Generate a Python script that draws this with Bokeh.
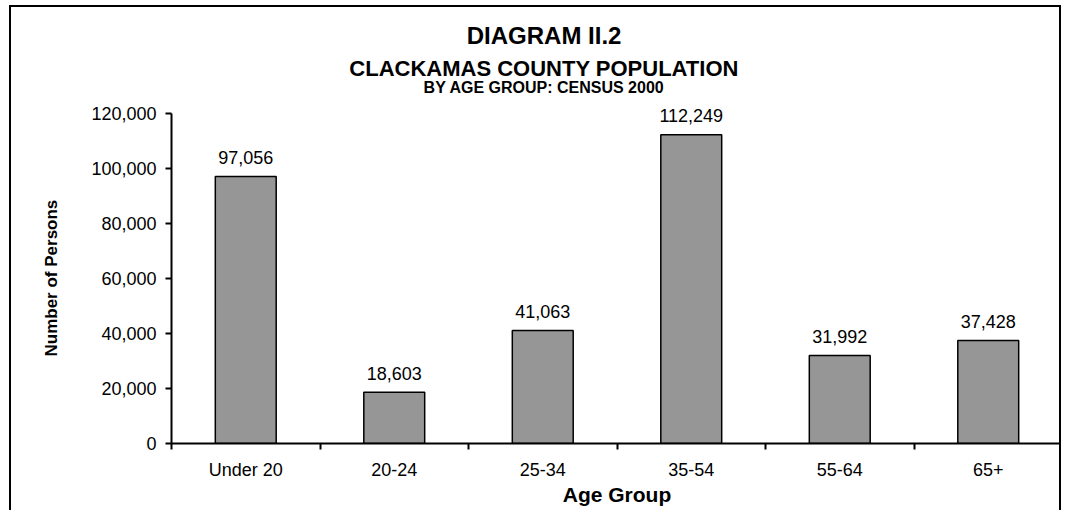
from bokeh.plotting import figure
from bokeh.models import Range1d, FixedTicker, NumeralTickFormatter, Title, Label, ColumnDataSource
from bokeh.core.properties import value
from bokeh.embed import file_html
from bokeh.resources import INLINE

categories = ["Under 20", "20-24", "25-34", "35-54", "55-64", "65+"]
persons = [97056, 18603, 41063, 112249, 31992, 37428]
y_ticks = [0, 20000, 40000, 60000, 80000, 100000, 120000]

title_lines = ["DIAGRAM II.2", "CLACKAMAS COUNTY POPULATION", "BY AGE GROUP: CENSUS 2000"]
x_title = "Age Group"
y_title = "Number of Persons"

FONT = "Liberation Sans"
n = len(categories)
xs = [i + 0.5 for i in range(n)]
labels = [f"{v:,}" for v in persons]

# layout (pixels)
W, H = 1052, 505
MB_LEFT, MB_RIGHT, MB_TOP, MB_BOTTOM = 159, 1, 0, 69
AXIS_PX = 330                      # pixel height of the 0..120000 axis
frame_h = H - MB_TOP - MB_BOTTOM
units_per_px = y_ticks[-1] / AXIS_PX
y_top = frame_h * units_per_px     # frame extends above the axis to hold the titles
frame_w = W - MB_LEFT - MB_RIGHT
cat_px = frame_w / n

src = ColumnDataSource(dict(x=xs, top=persons, label=labels))

p = figure(width=W, height=H, output_backend="svg", toolbar_location=None,
           x_range=Range1d(0, n), y_range=Range1d(0, y_top),
           min_border_left=MB_LEFT, min_border_right=MB_RIGHT,
           min_border_top=MB_TOP, min_border_bottom=MB_BOTTOM)
p.styles = {"border-left": "2px solid black", "border-top": "2px solid black",
            "border-right": "2px solid black", "margin-left": "9px", "margin-top": "5px"}
p.outline_line_color = None
p.xgrid.visible = False
p.ygrid.visible = False
p.background_fill_color = "white"
p.border_fill_color = "white"

p.vbar(x="x", top="top", width=0.41, bottom=0, source=src,
       fill_color="#969696", line_color="black", line_width=1.5)
p.text(x="x", y="top", text="label", source=src, text_align="center",
       text_baseline="alphabetic", y_offset=-19, text_font=value(FONT),
       text_font_size="18px", text_color="black")

# x axis
xa = p.xaxis[0]
xa.ticker = FixedTicker(ticks=xs, minor_ticks=list(range(n + 1)))
xa.major_label_overrides = {x: c for x, c in zip(xs, categories)}
xa.major_tick_out = 0
xa.major_tick_in = 0
xa.minor_tick_out = 6
xa.minor_tick_in = 0
xa.minor_tick_line_color = "black"
xa.minor_tick_line_width = 2
xa.axis_line_width = 2
xa.axis_line_color = "black"
xa.major_label_text_font = FONT
xa.major_label_text_font_size = "18px"
xa.major_label_text_color = "black"
xa.major_label_standoff = 10
xa.axis_label = x_title
xa.axis_label_text_font = FONT
xa.axis_label_text_font_style = "bold"
xa.axis_label_text_font_size = "21px"
xa.axis_label_text_color = "black"
xa.axis_label_standoff = 0

# y axis (line limited to the 0..120,000 scale)
ya = p.yaxis[0]
ya.ticker = FixedTicker(ticks=y_ticks, minor_ticks=[])
ya.bounds = (y_ticks[0], y_ticks[-1])
ya.formatter = NumeralTickFormatter(format="0,0")
ya.major_tick_out = 6
ya.major_tick_in = 0
ya.major_tick_line_width = 2
ya.major_tick_line_color = "black"
ya.axis_line_width = 2
ya.axis_line_color = "black"
ya.major_label_text_font = FONT
ya.major_label_text_font_size = "18px"
ya.major_label_text_color = "black"
ya.major_label_standoff = 9

# y-axis title as a side title so it can be centred on the 0..120,000 scale
p.add_layout(Title(text=y_title, align="left", offset=87, standoff=56,
                   text_font=FONT, text_font_style="bold", text_font_size="17px",
                   text_color="black"), "left")

# chart titles inside the (extended) frame
title_dx = 373
sizes = ["24px", "22px", "16px"]
baselines_px = [408, 375, 356]
for t, s, by in zip(title_lines, sizes, baselines_px):
    p.add_layout(Label(x=title_dx / cat_px, y=by * units_per_px, text=t,
                       text_align="center", text_baseline="alphabetic",
                       text_font=FONT, text_font_style="bold", text_font_size=s,
                       text_color="black"))

open("out.html", "w").write(file_html(p, INLINE))
